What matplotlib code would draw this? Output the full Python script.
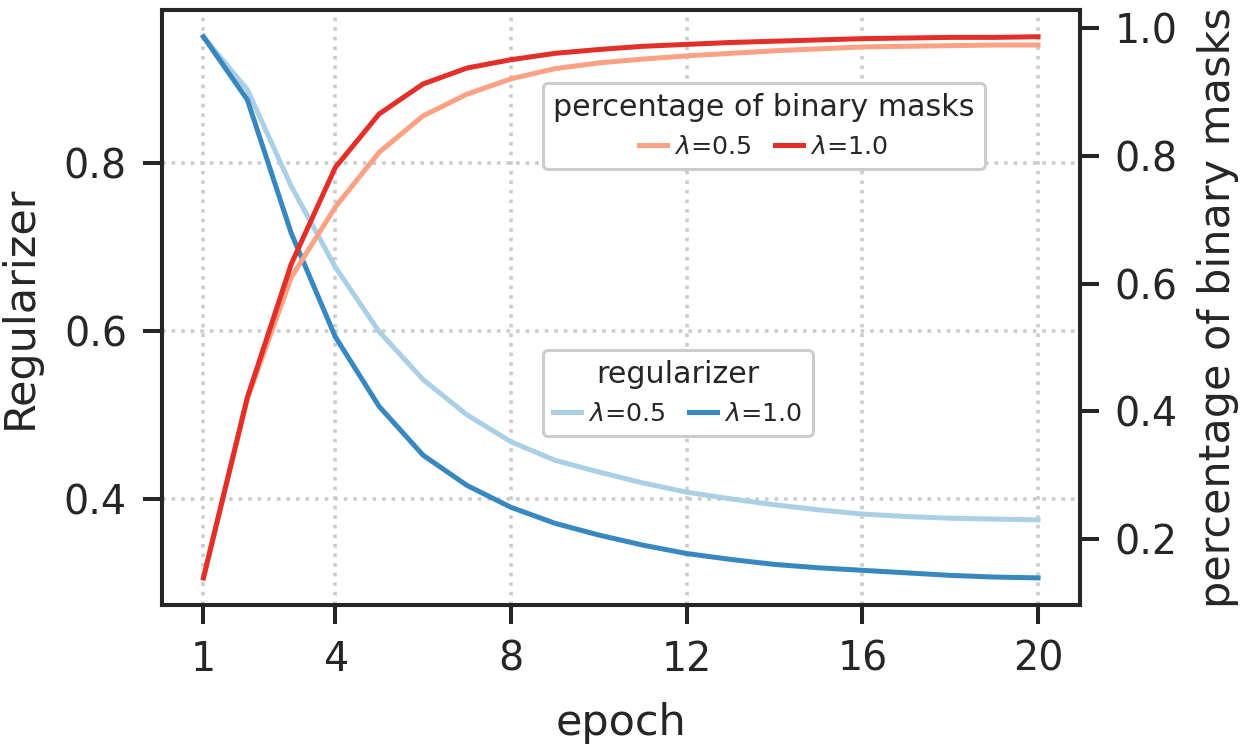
import matplotlib
matplotlib.use("Agg")
import matplotlib.pyplot as plt

# ---------------------------------------------------------------------------
# Data
# ---------------------------------------------------------------------------
epochs = list(range(1, 21))

reg_lam05 = [0.950, 0.887, 0.772, 0.676, 0.599, 0.542, 0.500, 0.468, 0.446, 0.432,
             0.419, 0.408, 0.400, 0.393, 0.387, 0.382, 0.379, 0.377, 0.376, 0.375]
reg_lam10 = [0.950, 0.875, 0.716, 0.593, 0.510, 0.452, 0.416, 0.390, 0.371, 0.357,
             0.345, 0.335, 0.328, 0.322, 0.318, 0.315, 0.312, 0.309, 0.307, 0.306]

bin_lam05 = [0.139, 0.420, 0.610, 0.720, 0.806, 0.863, 0.897, 0.921, 0.937, 0.946,
             0.952, 0.957, 0.961, 0.965, 0.968, 0.971, 0.972, 0.973, 0.974, 0.974]
bin_lam10 = [0.139, 0.422, 0.631, 0.782, 0.866, 0.913, 0.938, 0.951, 0.961, 0.967,
             0.972, 0.975, 0.978, 0.980, 0.982, 0.984, 0.985, 0.986, 0.986, 0.987]

xticks = [1, 4, 8, 12, 16, 20]
left_yticks = [0.4, 0.6, 0.8]
right_yticks = [0.2, 0.4, 0.6, 0.8, 1.0]
labels = [r"$\lambda$=0.5", r"$\lambda$=1.0"]

# ---------------------------------------------------------------------------
# Style
# ---------------------------------------------------------------------------
TEXT = "#262626"
plt.rcParams.update({
    "font.family": "DejaVu Sans",
    "text.color": TEXT,
    "axes.labelcolor": TEXT,
    "xtick.color": TEXT,
    "ytick.color": TEXT,
    "axes.edgecolor": TEXT,
    "mathtext.fontset": "dejavusans",
})

LW = 3.6
TICK_KW = dict(labelsize=28.5, length=14, width=2.9, pad=11)

fig = plt.figure(figsize=(12.44, 7.45), dpi=100)
ax = fig.add_axes([0.130, 0.188, 0.738, 0.799])
ax2 = ax.twinx()

l1, = ax.plot(epochs, reg_lam05, color="#abd0e6", lw=LW)
l2, = ax.plot(epochs, reg_lam10, color="#3787c0", lw=LW)
r1, = ax2.plot(epochs, bin_lam05, color="#fca183", lw=LW)
r2, = ax2.plot(epochs, bin_lam10, color="#e32f27", lw=LW)

ax.set_xticks(xticks)
ax.set_yticks(left_yticks)
ax2.set_yticks(right_yticks)
ax.set_xlim(0.05, 20.95)

ax.grid(True, linestyle=":", color="#cccccc", linewidth=2.6)
ax.set_axisbelow(True)

for a in (ax, ax2):
    a.tick_params(axis="both", **TICK_KW)
    for s in a.spines.values():
        s.set_linewidth(2.9)

ax.set_xlabel("epoch", fontsize=31, labelpad=16)
ax.set_ylabel("Regularizer", fontsize=31, labelpad=17)
ax2.set_ylabel("percentage of binary masks", fontsize=31, labelpad=14)

leg_kw = dict(ncol=2, loc="upper left", fontsize=18.3, title_fontsize=21.7,
              handlelength=1.1, handletextpad=0.3, columnspacing=0.9,
              borderaxespad=0, fancybox=True, framealpha=1.0,
              edgecolor="#cccccc")
leg2 = ax2.legend([r1, r2], labels, title="percentage of binary masks",
                  bbox_to_anchor=(0.415, 0.877), **leg_kw)
leg2.get_frame().set_linewidth(2.2)
leg1 = ax.legend([l1, l2], labels, title="regularizer",
                 bbox_to_anchor=(0.415, 0.4286), **leg_kw)
leg1.get_frame().set_linewidth(2.2)

fig.savefig("out.png", dpi=100)
